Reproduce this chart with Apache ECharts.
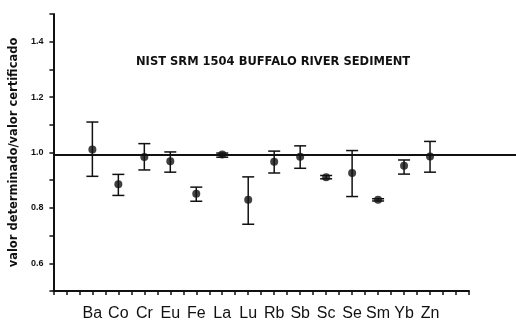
<!DOCTYPE html>
<html><head><meta charset="utf-8">
<script src="https://cdn.jsdelivr.net/npm/echarts@6/dist/echarts.min.js"></script>
<style>html,body{margin:0;padding:0;background:#fff}#c{width:516px;height:322px}</style>
</head><body><div id="c"></div>
<script>
const categories = ['Ba','Co','Cr','Eu','Fe','La','Lu','Rb','Sb','Sc','Se','Sm','Yb','Zn'];
const ratio = [1.011,0.885,0.984,0.968,0.851,0.993,0.829,0.967,0.985,0.911,0.926,0.829,0.952,0.986];
const lower = [0.914,0.845,0.937,0.929,0.824,0.983,0.741,0.926,0.943,0.905,0.841,0.825,0.922,0.929];
const upper = [1.110,0.921,1.032,1.002,0.875,0.998,0.912,1.005,1.024,0.917,1.007,0.833,0.973,1.040];
const yTickLabels = [0.6,0.8,1.0,1.2,1.4];
const referenceValue = 1.0;
const titleText = 'NIST SRM 1504 BUFFALO RIVER SEDIMENT';
const yName = 'valor determinado/valor certificado';

const posOf = i => i + 1.5;
const pts = ratio.map((v,i)=>[posOf(i), v]);
const bars = ratio.map((v,i)=>[posOf(i), lower[i], upper[i]]);
const FONT = 'Liberation Sans, Arial, sans-serif';
const WIDE = 'DejaVu Sans, sans-serif';

const chart = echarts.init(document.getElementById('c'), null, {renderer:'canvas'});
chart.setOption({
  animation:false,
  backgroundColor:'#fff',
  title:{text:titleText,left:131,top:51,textStyle:{fontFamily:WIDE,fontSize:11.5,fontWeight:'bold',color:'#111'}},
  grid:[
    {left:53,top:14,width:416,height:282},
    {left:53,top:14,right:0,height:282}
  ],
  xAxis:[
    {type:'value',gridIndex:0,min:0,max:16,interval:0.5,
     axisLine:{show:true,onZero:false,lineStyle:{color:'#111',width:2}},
     axisTick:{show:true,length:4,lineStyle:{color:'#111',width:1.5}},
     splitLine:{show:false},
     axisLabel:{margin:15,fontFamily:FONT,fontSize:16,color:'#111',
       formatter:v=>{const k=v-1.5;const r=Math.round(k);return (Math.abs(k-r)<1e-6&&r>=0&&r<categories.length)?categories[r]:'';}}},
    {type:'value',gridIndex:1,min:0,max:1,show:false}
  ],
  yAxis:[
    {type:'value',gridIndex:0,min:0.5,max:1.5,interval:0.1,
     name:yName,nameLocation:'middle',nameRotate:90,nameGap:32,
     nameTextStyle:{fontFamily:WIDE,fontSize:11.5,fontWeight:'bold',color:'#111'},
     axisLine:{show:true,lineStyle:{color:'#111',width:2}},
     axisTick:{show:true,length:4,lineStyle:{color:'#111',width:1.5}},
     splitLine:{show:false},
     axisLabel:{margin:10,fontFamily:FONT,fontSize:9,fontWeight:'bold',color:'#111',
       formatter:v=>{const hit=yTickLabels.find(t=>Math.abs(t-v)<1e-6);return hit!==undefined?hit.toFixed(1):'';}}},
    {type:'value',gridIndex:1,min:0.5,max:1.5,show:false}
  ],
  series:[
    {type:'line',xAxisIndex:1,yAxisIndex:1,data:[[0,referenceValue],[1,referenceValue]],
     symbol:'none',lineStyle:{color:'#111',width:2},silent:true},
    {type:'custom',xAxisIndex:0,yAxisIndex:0,data:bars,
     renderItem:(params,api)=>{
       const x=api.value(0);
       const lo=api.coord([x,api.value(1)]);
       const hi=api.coord([x,api.value(2)]);
       const hw=6;
       const st={stroke:'#111',lineWidth:1.5};
       return {type:'group',children:[
         {type:'line',shape:{x1:lo[0],y1:lo[1],x2:hi[0],y2:hi[1]},style:st},
         {type:'line',shape:{x1:lo[0]-hw,y1:lo[1],x2:lo[0]+hw,y2:lo[1]},style:st},
         {type:'line',shape:{x1:hi[0]-hw,y1:hi[1],x2:hi[0]+hw,y2:hi[1]},style:st}
       ]};
     }},
    {type:'scatter',xAxisIndex:0,yAxisIndex:0,data:pts,symbol:'circle',symbolSize:8,
     itemStyle:{color:'#111'}}
  ]
});
</script></body></html>
